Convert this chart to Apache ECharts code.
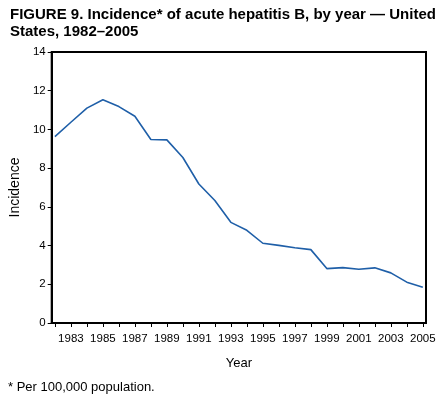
<!DOCTYPE html>
<html>
<head>
<meta charset="utf-8">
<script src="https://cdn.jsdelivr.net/npm/echarts@6/dist/echarts.min.js"></script>
<style>
  html, body { margin: 0; padding: 0; background: #fff; }
  #chart { width: 445px; height: 398px; }
</style>
</head>
<body>
<div id="chart"></div>
<script>
const years = [1982, 1983, 1984, 1985, 1986, 1987, 1988, 1989, 1990, 1991, 1992, 1993,
  1994, 1995, 1996, 1997, 1998, 1999, 2000, 2001, 2002, 2003, 2004, 2005]
const incidence = [9.63, 10.37, 11.1, 11.53, 11.18, 10.68, 9.48, 9.46, 8.55, 7.18, 6.33, 5.2,
  4.79, 4.12, 4.01, 3.89, 3.79, 2.81, 2.86, 2.78, 2.85, 2.59, 2.11, 1.85]
const yearLabels = [1983, 1985, 1987, 1989, 1991, 1993, 1995, 1997, 1999, 2001, 2003, 2005]

const font = 'Liberation Sans, Arial, Helvetica, sans-serif'
const chart = echarts.init(document.getElementById('chart'), null, { renderer: 'canvas' })

chart.setOption({
  animation: false,
  title: {
    text: 'FIGURE 9. Incidence* of acute hepatitis B, by year — United\nStates, 1982–2005',
    left: 10,
    top: 6,
    padding: 0,
    textStyle: { fontFamily: font, fontSize: 15, fontWeight: 'bold', color: '#000', lineHeight: 17 },
  },
  graphic: [
    {
      type: 'text',
      left: 8,
      top: 381,
      style: { text: '* Per 100,000 population.', font: '13px ' + font, fill: '#000' },
    },
  ],
  grid: {
    left: 51,
    right: 19,
    top: 52,
    bottom: 75,
    show: true,
    borderColor: '#000',
    borderWidth: 2,
  },
  xAxis: {
    type: 'value',
    min: 1981.8,
    max: 2005.2,
    name: 'Year',
    nameLocation: 'middle',
    nameGap: 34,
    nameTextStyle: { fontFamily: font, fontSize: 13, color: '#000' },
    axisLine: { lineStyle: { color: '#000', width: 2 } },
    axisTick: { customValues: years, length: 4, lineStyle: { color: '#000' } },
    axisLabel: {
      customValues: yearLabels,
      fontFamily: font, fontSize: 11.5, color: '#000', margin: 10,
      formatter: v => String(v),
    },
    splitLine: { show: false },
  },
  yAxis: {
    type: 'value',
    min: 0,
    max: 14,
    interval: 2,
    name: 'Incidence',
    nameLocation: 'middle',
    nameGap: 29,
    nameTextStyle: { fontFamily: font, fontSize: 14, color: '#000' },
    axisLine: { show: true, lineStyle: { color: '#000', width: 2 } },
    axisTick: { show: true, length: 4, lineStyle: { color: '#000' } },
    axisLabel: { fontFamily: font, fontSize: 11.5, color: '#000', margin: 6 },
    splitLine: { show: false },
  },
  series: [
    {
      type: 'line',
      data: years.map((y, i) => [y, incidence[i]]),
      symbol: 'none',
      lineStyle: { color: '#1f5fa8', width: 1.6 },
    },
  ],
})
</script>
</body>
</html>
